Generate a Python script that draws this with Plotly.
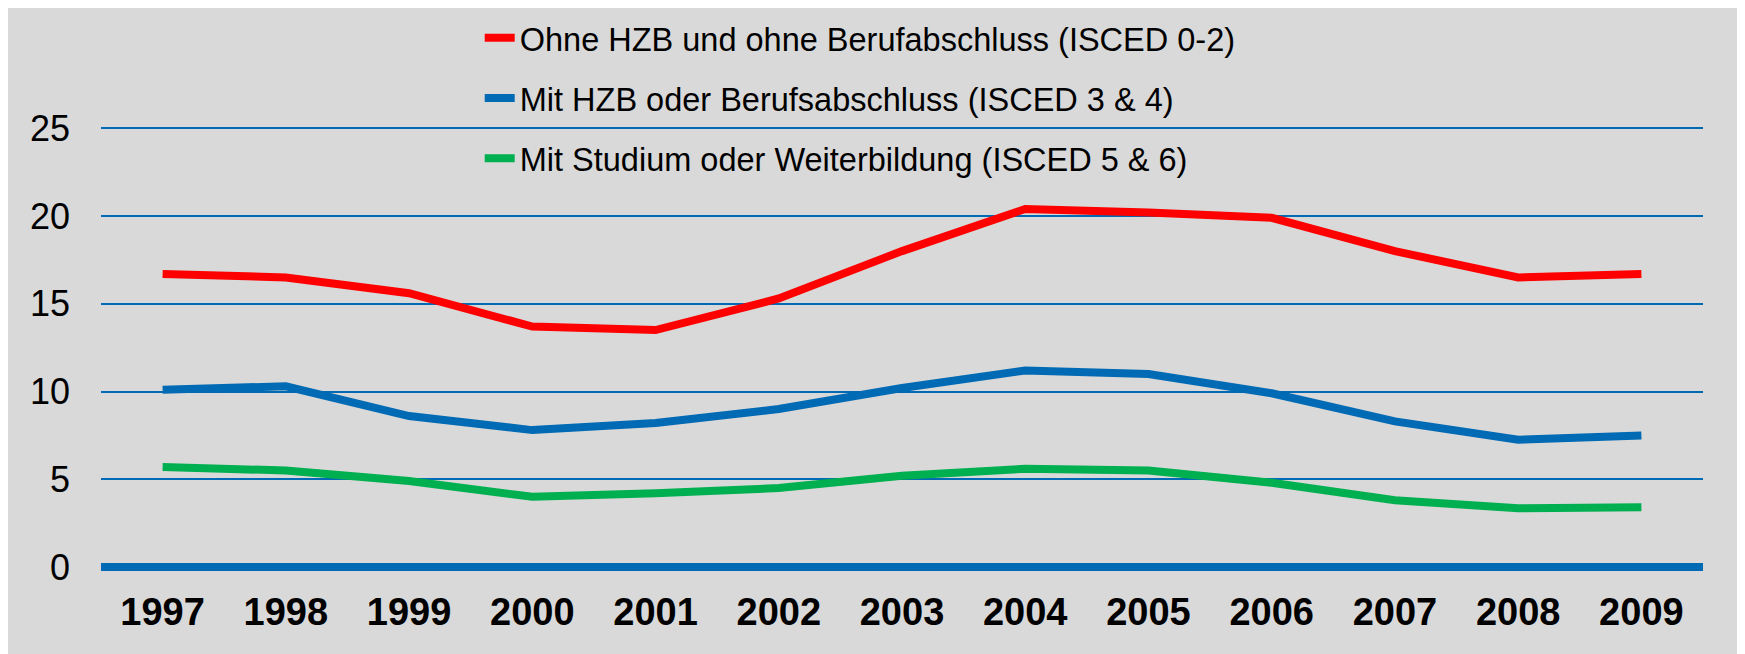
import plotly.graph_objects as go

years = ["1997", "1998", "1999", "2000", "2001", "2002", "2003",
         "2004", "2005", "2006", "2007", "2008", "2009"]

ohne_hzb = [16.7, 16.5, 15.6, 13.7, 13.5, 15.3, 18.0, 20.4, 20.2, 19.9, 18.0, 16.5, 16.7]
mit_hzb = [10.1, 10.3, 8.6, 7.8, 8.2, 9.0, 10.2, 11.2, 11.0, 9.9, 8.3, 7.25, 7.5]
mit_studium = [5.7, 5.5, 4.9, 4.0, 4.2, 4.5, 5.2, 5.6, 5.5, 4.8, 3.8, 3.35, 3.4]

series_names = [
    "Ohne HZB und ohne Berufabschluss (ISCED 0-2)",
    "Mit HZB oder Berufsabschluss (ISCED 3 & 4)",
    "Mit Studium oder Weiterbildung (ISCED 5 & 6)",
]
series_colors = ["#FF0000", "#006AB4", "#00B050"]

y_ticks = [0, 5, 10, 15, 20, 25]

BLUE = "#006AB4"
GREY = "#D9D9D9"
FONT = "Liberation Sans, Arial, sans-serif"

fig = go.Figure()
for i, (name, vals, col) in enumerate(zip(series_names, [ohne_hzb, mit_hzb, mit_studium], series_colors)):
    fig.add_trace(go.Scatter(
        x=years, y=vals, name=name, mode="lines",
        line=dict(color=col, width=8),
        legendgroup=f"g{i}",
    ))

# page body keeps its 8px margin, so the figure starts at (8, 8)
fig.update_layout(
    width=1737, height=646,
    margin=dict(l=93, r=42, t=115, b=87, autoexpand=False),
    paper_bgcolor=GREY,
    plot_bgcolor=GREY,
    font=dict(family=FONT, color="black"),
    showlegend=True,
    legend=dict(
        x=0.2364, y=1.254, xanchor="left", yanchor="top",
        bgcolor="rgba(0,0,0,0)",
        font=dict(size=32.5, family=FONT),
        tracegroupgap=15,
        traceorder="grouped",
    ),
)
fig.update_xaxes(
    type="category", range=[-0.5, 12.5],
    showgrid=False, showline=False, zeroline=False,
    tickfont=dict(size=38, family=FONT, weight="bold"),
    ticks="", ticklabelstandoff=19,
)
fig.update_yaxes(
    range=[0, 25.3], tickvals=y_ticks,
    showgrid=True, gridcolor=BLUE, gridwidth=2,
    zeroline=True, zerolinecolor=BLUE, zerolinewidth=8,
    showline=False, ticks="",
    tickfont=dict(size=36, family=FONT),
    ticklabelstandoff=30,
)

fig.write_html("out.html")
